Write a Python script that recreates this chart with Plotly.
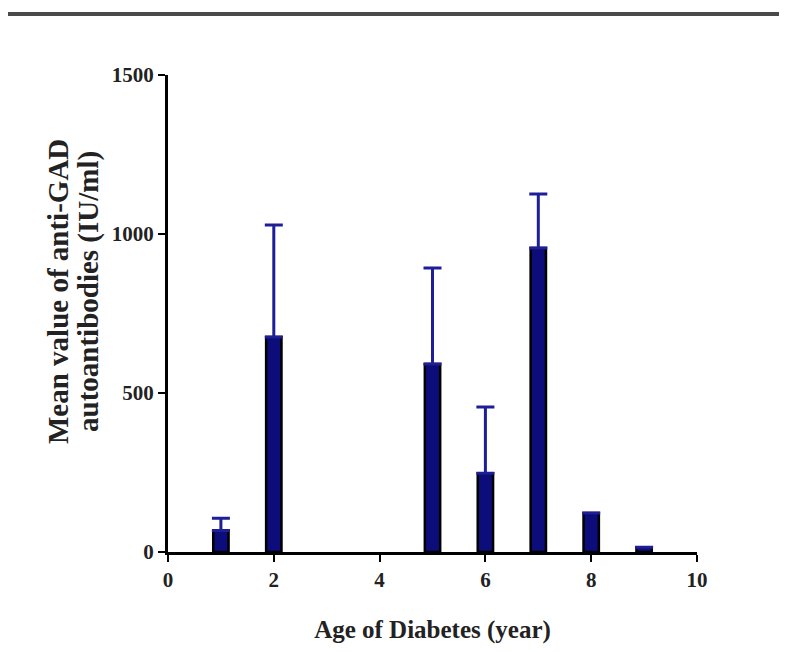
import plotly.graph_objects as go

age_years = [1, 2, 5, 6, 7, 8, 9]
mean_gad = [68, 676, 591, 248, 956, 123, 15]
sem_upper = [38, 352, 302, 208, 170, 0, 0]

x_ticks = [0, 2, 4, 6, 8, 10]
y_ticks = [0, 500, 1000, 1500]

FONT = "Liberation Serif"

fig = go.Figure()
fig.add_trace(go.Bar(
    x=age_years, y=mean_gad, width=0.29,
    marker=dict(color="#0c0c7a", line=dict(color="#000000", width=2.5)),
    error_y=dict(type="data", symmetric=False, array=sem_upper,
                 arrayminus=[0] * len(sem_upper),
                 color="#1e1e96", thickness=3, width=9),
))

# page body has an 8px margin, so the figure is sized to the visible area
W, H = 771, 636
L, R, T, B = 160, 82, 67, 92
pw, ph = W - L - R, H - T - B
plot_bottom = H - B

fig.update_layout(
    width=W, height=H,
    margin=dict(l=L, r=R, t=T, b=B),
    paper_bgcolor="white", plot_bgcolor="white",
    showlegend=False,
    font=dict(family=FONT, color="#111111"),
    xaxis=dict(range=[0, 10], tickvals=x_ticks,
               ticktext=[f"<b>{v}</b>" for v in x_ticks],
               ticks="outside", ticklen=7, automargin=False,
               tickwidth=2, tickcolor="black", showline=True, linecolor="black",
               linewidth=3, showgrid=False, zeroline=False,
               tickfont=dict(family=FONT, size=21, color="#222222"),
               title=dict(text="<b>Age of Diabetes (year)</b>",
                          font=dict(family=FONT, size=25, color="#222222"),
                          standoff=32)),
    yaxis=dict(range=[0, 1500], tickvals=y_ticks,
               ticktext=[f"<b>{v}</b>" for v in y_ticks],
               ticks="outside", ticklen=7, automargin=False,
               tickwidth=2, tickcolor="black", showline=True, linecolor="black",
               linewidth=3, showgrid=False, zeroline=False,
               tickfont=dict(family=FONT, size=21, color="#222222")),
)

# y-axis title as two lines
for txt, px in [("Mean value of anti-GAD", 50), ("autoantibodies (IU/ml)", 80)]:
    fig.add_annotation(text=f"<b>{txt}</b>", xref="paper", yref="paper",
                       x=(px - L) / pw, y=(plot_bottom - 284) / ph,
                       showarrow=False, textangle=-90,
                       font=dict(family=FONT, size=29, color="#222222"),
                       xanchor="center", yanchor="middle")

# top border line
fig.add_shape(type="line", xref="paper", yref="paper",
              x0=(0 - L) / pw, x1=(W - L) / pw,
              y0=(plot_bottom - 6) / ph, y1=(plot_bottom - 6) / ph,
              line=dict(color="#4a4a4a", width=4))

fig.write_html("out.html")
